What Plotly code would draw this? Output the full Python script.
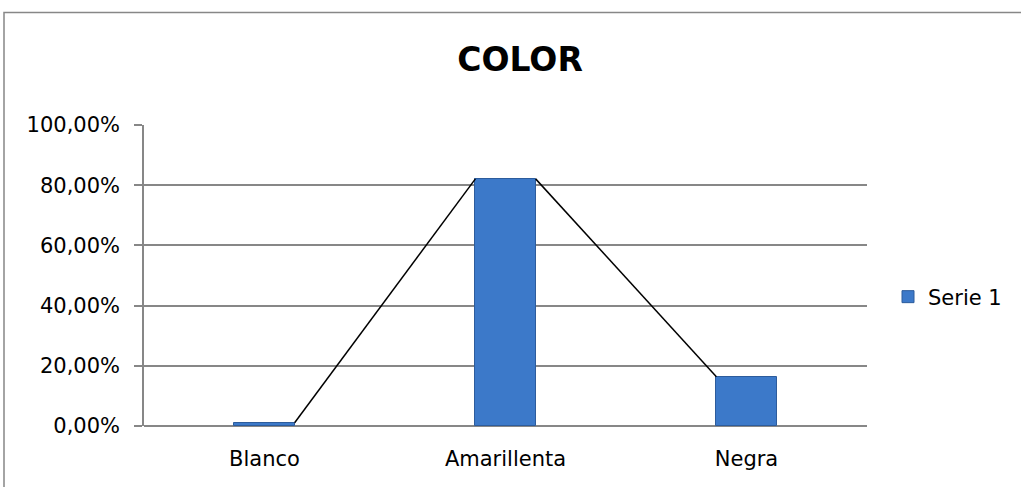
import plotly.graph_objects as go

categories = ["Blanco", "Amarillenta", "Negra"]
values = [0.011, 0.821, 0.164]
series_name = "Serie 1"
tick_vals = [0, 0.2, 0.4, 0.6, 0.8, 1.0]

bar_w = 0.25
xs = list(range(len(categories)))

# connecting line: from right top corner of each bar to left top corner of next
lx, ly = [], []
for i in range(len(values) - 1):
    lx += [xs[i] + bar_w / 2, xs[i + 1] - bar_w / 2, None]
    ly += [values[i], values[i + 1], None]

fig = go.Figure()
fig.add_trace(go.Bar(
    x=xs, y=values, width=bar_w, name=series_name,
    marker=dict(color="#3C79C9", line=dict(color="#2D5C9C", width=1)),
    showlegend=True,
))
fig.add_trace(go.Scatter(
    x=lx, y=ly, mode="lines", line=dict(color="black", width=1.5),
    showlegend=False, hoverinfo="skip",
))

W, H = 1021, 487
ml, mr, mt, mb = 144, 154, 125, 61
pw, ph = W - ml - mr, H - mt - mb

fig.update_layout(
    width=W, height=H,
    margin=dict(l=ml, r=mr, t=mt, b=mb, pad=0),
    paper_bgcolor="white", plot_bgcolor="white",
    separators=",.",
    font=dict(family="DejaVu Sans, sans-serif", size=21, color="#000000"),
    title=dict(text="<b>COLOR</b>", font=dict(size=33, color="black"),
               x=(520) / W, xanchor="center", xref="container",
               y=1 - 59 / H, yanchor="middle", yref="container"),
    xaxis=dict(
        range=[-0.5, len(categories) - 0.5],
        tickmode="array", tickvals=xs, ticktext=categories,
        showgrid=False, zeroline=False, showline=False,
        ticks="", ticklabelstandoff=18,
    ),
    yaxis=dict(
        range=[0, 1.0], tickvals=tick_vals, tickformat=".2%",
        showgrid=True, gridcolor="#878787", gridwidth=1.5,
        zeroline=True, zerolinecolor="#878787", zerolinewidth=1.5,
        showline=True, linecolor="#878787", linewidth=1.5,
        ticks="outside", ticklen=8, tickcolor="#878787", tickwidth=1.5,
        ticklabelstandoff=10,
    ),
    legend=dict(x=(888 - ml) / pw, xanchor="left",
                y=(H - mb - 297) / ph, yanchor="middle",
                font=dict(size=21), itemwidth=30, bgcolor="rgba(0,0,0,0)"),
    bargap=0,
    shapes=[dict(type="rect", xref="paper", yref="paper",
                 x0=(4 - ml) / pw, x1=(W + 10 - ml) / pw,
                 y0=(H - mb - (H + 10)) / ph, y1=(H - mb - 12.5) / ph,
                 line=dict(color="#878787", width=1.5), layer="below")],
)

fig.write_html("out.html")
